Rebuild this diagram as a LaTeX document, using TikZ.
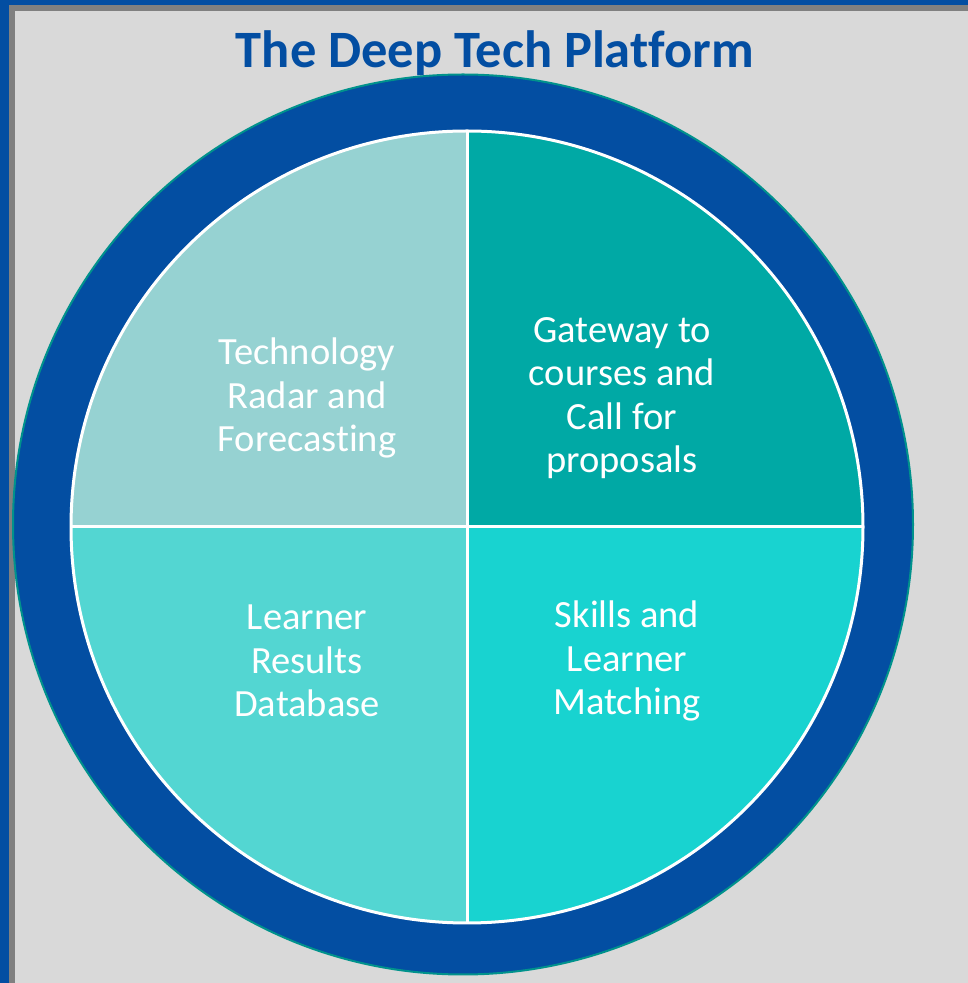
\documentclass[tikz,border=0pt]{standalone}
\usepackage{fontspec}
\setmainfont{Carlito}[Ligatures=NoCommon]
\definecolor{frameblue}{HTML}{034EA2}
\definecolor{framegray}{HTML}{808080}
\definecolor{bggray}{HTML}{D9D9D9}
\definecolor{ringteal}{HTML}{00928C}
\definecolor{qtl}{HTML}{96D2D2}
\definecolor{qtr}{HTML}{00A9A5}
\definecolor{qbl}{HTML}{53D6D2}
\definecolor{qbr}{HTML}{18D3D0}
\begin{document}
\begin{tikzpicture}[x=1pt,y=1pt,
  quadtext/.style={text=white,align=center,font=\fontsize{38.5}{43.5}\selectfont,inner sep=0pt},
  divider/.style={draw=white,line width=3pt}]
\useasboundingbox (0,0) rectangle (968,983);
% frame
\fill[frameblue] (0,0) rectangle (968,983);
\fill[framegray] (9,0) rectangle (968,978);
\fill[bggray] (15,0) rectangle (968,972);
% title
\node[anchor=base,text=frameblue,font=\fontsize{52.5}{60}\selectfont\bfseries,inner sep=0pt] (title) at (495,915) {The Deep Tech Platform};
% outer ring
\coordinate (oc) at (463,458.5);
\fill[frameblue,draw=ringteal,line width=2pt] (oc) circle[radius=450];
% pie
\coordinate (pc) at (467,456);
\fill[qtl] (pc) -- ++(180:396) arc[start angle=180,end angle=90,radius=396] -- cycle;
\fill[qtr] (pc) -- ++(90:396) arc[start angle=90,end angle=0,radius=396] -- cycle;
\fill[qbr] (pc) -- ++(0:396) arc[start angle=0,end angle=-90,radius=396] -- cycle;
\fill[qbl] (pc) -- ++(-90:396) arc[start angle=-90,end angle=-180,radius=396] -- cycle;
\draw[divider] (pc) circle[radius=396];
\draw[divider] ([xshift=-396]pc) -- ([xshift=396]pc);
\draw[divider] ([yshift=-396]pc) -- ([yshift=396]pc);
% labels
\node[quadtext] (tl) at (307,585) {Technology\\Radar and\\Forecasting};
\node[quadtext] (tr) at (622,585) {Gateway to\\courses and\\Call for\\proposals};
\node[quadtext] (bl) at (307,322) {Learner\\Results\\Database};
\node[quadtext] (br) at (627,322) {Skills and\\Learner\\Matching};
\end{tikzpicture}
\end{document}
